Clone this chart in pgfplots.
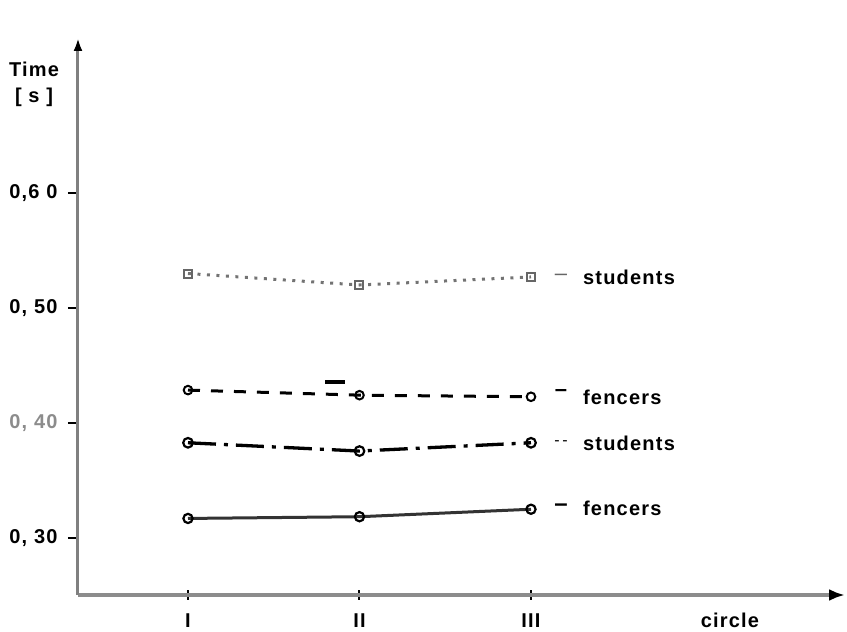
\documentclass[border=0pt]{standalone}
\usepackage{pgfplots}
\pgfplotsset{compat=1.18}
\usetikzlibrary{arrows.meta}
\usepackage{fontspec}
\setmainfont{Liberation Sans}[LetterSpace=6]
\begin{document}
\begin{tikzpicture}
\begin{axis}[
  scale only axis, width=767pt, height=557pt,
  xmin=0.3586, xmax=4.831, ymin=0.25043, ymax=0.7348,
  axis x line=bottom, axis y line=left,
  x axis line style={black!45, line width=4.5pt, -{Latex[length=16pt,width=12pt,color=black]}},
  y axis line style={black!50, line width=3pt, -{Latex[length=13pt,width=9pt,color=black]}},
  xtick={1,2,3}, xticklabels={I,II,III},
  ytick={0.3,0.4,0.5,0.6},
  yticklabels={{0, 30},{\textcolor{black!45}{0, 40}},{0, 50},{0,6 0}},
  tick align=center, major tick length=10pt,
  x tick style={black, line width=2pt},
  y tick style={black, line width=1.5pt, xshift=-5pt},
  tick label style={font=\fontsize{20}{23}\selectfont\bfseries},
  xticklabel style={yshift=-10pt},
  yticklabel style={xshift=-12pt},
  clip=false,
]
% dotted: students
\addplot[black!55, line width=3pt, dash pattern=on 3pt off 6.5pt,
  mark=square, mark size=4pt, mark options={solid, line width=2pt, black!60, fill=white}]
  coordinates {(1,0.530) (2,0.520) (3,0.527)};
% dashed: fencers
\addplot[black, line width=3pt, dash pattern=on 12pt off 11pt,
  mark=o, mark size=4.3pt, mark options={solid, line width=2pt, fill=white}]
  coordinates {(1,0.4286) (2,0.4242) (3,0.4228)};
% stray dash
\addplot[black, line width=4.5pt] coordinates {(1.80,0.4357) (1.915,0.4357)};
% dash-dot: students
\addplot[black, line width=3.3pt, dash pattern=on 28pt off 8pt on 4pt off 8pt,
  mark=o, mark size=4.8pt, mark options={solid, line width=2.2pt, fill=white}]
  coordinates {(1,0.3828) (2,0.3756) (3,0.3828)};
% solid: fencers
\addplot[black!80, line width=3pt,
  mark=o, mark size=4.6pt, mark options={solid, line width=2.2pt, black, fill=white}]
  coordinates {(1,0.317) (2,0.3185) (3,0.325)};
% right-hand labels
\tikzset{lab/.style={anchor=west, font=\fontsize{20}{23}\selectfont\bfseries, inner sep=0pt}}
\node[lab] at (axis cs:3.303,0.527) {students};
\node[lab] at (axis cs:3.303,0.4226) {fencers};
\node[lab] at (axis cs:3.303,0.3826) {students};
\node[lab] at (axis cs:3.303,0.326) {fencers};
\node[font=\fontsize{22}{23}\selectfont, text=black!60] at (axis cs:3.175,0.527) {--};
\node[font=\fontsize{22}{23}\selectfont\bfseries] at (axis cs:3.175,0.4265) {--};
\node[font=\fontsize{16}{18}\selectfont] at (axis cs:3.175,0.3826) {-\,-};
\node[font=\fontsize{24}{25}\selectfont\bfseries] at (axis cs:3.175,0.3265) {--};
\node[font=\fontsize{20}{23}\selectfont\bfseries] at (axis cs:0.102,0.7078) {Time};
\node[font=\fontsize{20}{23}\selectfont\bfseries] at (axis cs:0.102,0.6835) {[ s ]};
\node[font=\fontsize{20}{23}\selectfont\bfseries] at (axis cs:4.160,0.2287) {circle};
\end{axis}
\pgfresetboundingbox
\path (-78pt,-37pt) rectangle (769pt,595pt);
\end{tikzpicture}
\end{document}
